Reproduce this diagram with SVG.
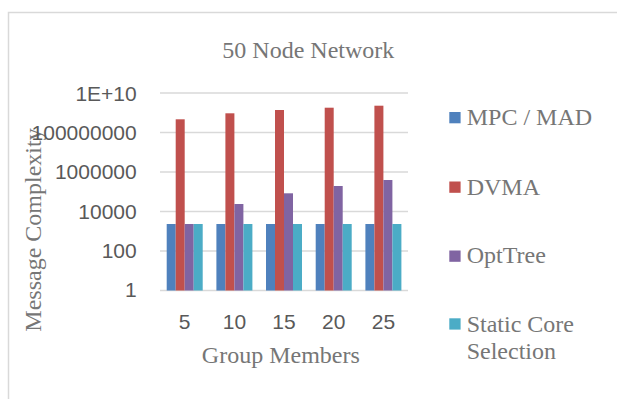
<svg xmlns="http://www.w3.org/2000/svg" width="617" height="399" viewBox="0 0 617 399">
  <style>
    .frame { fill: #ffffff; stroke: #d9d9d9; stroke-width: 1.5; }
    .grid { stroke: #d9d9d9; stroke-width: 1.5; fill: none; }
    .serif { font-family: "Liberation Serif", "Times New Roman", serif; font-size: 24px; fill: #767676; }
    .num { font-family: "Liberation Sans", Arial, sans-serif; font-size: 21px; fill: #595959; }
    .mpc { fill: #4f81bd; }
    .dvma { fill: #c0504d; }
    .opt { fill: #8064a2; }
    .scs { fill: #4bacc6; }
  </style>

  <rect width="617" height="399" fill="#ffffff"/>
  <!-- chart frame (left and top edges visible) -->
  <rect class="frame" x="8.5" y="12.5" width="620" height="400"/>

  <!-- title -->
  <text class="serif" x="308.3" y="57.7" text-anchor="middle">50 Node Network</text>

  <!-- gridlines (log scale, one per two decades) -->
  <g id="gridlines">
    <line class="grid" x1="160" y1="93" x2="408" y2="93"/>
    <line class="grid" x1="160" y1="132.5" x2="408" y2="132.5"/>
    <line class="grid" x1="160" y1="172" x2="408" y2="172"/>
    <line class="grid" x1="160" y1="211.5" x2="408" y2="211.5"/>
    <line class="grid" x1="160" y1="251" x2="408" y2="251"/>
    <line class="grid" x1="160" y1="290.5" x2="408" y2="290.5"/>
  </g>

  <!-- y axis title -->
  <text class="serif" transform="translate(40.7,230) rotate(-90)" x="0" y="0" text-anchor="middle">Message Complexity</text>

  <!-- y axis tick labels -->
  <g id="y-axis" text-anchor="end">
    <text class="num" x="136.7" y="100.7">1E+10</text>
    <text class="num" x="136.7" y="140">100000000</text>
    <text class="num" x="136.7" y="179.3">1000000</text>
    <text class="num" x="136.7" y="219">10000</text>
    <text class="num" x="136.7" y="258.3">100</text>
    <text class="num" x="136.7" y="297.3">1</text>
  </g>

  <!-- bars: MPC/MAD, DVMA, OptTree, Static Core Selection -->
  <g id="group-5">
    <rect class="mpc" x="166.7" y="224" width="9" height="66.5"/>
    <rect class="dvma" x="175.7" y="119.3" width="9" height="171.2"/>
    <rect class="opt" x="184.7" y="224" width="9" height="66.5"/>
    <rect class="scs" x="193.7" y="224" width="9" height="66.5"/>
  </g>
  <g id="group-10">
    <rect class="mpc" x="216.4" y="224" width="9" height="66.5"/>
    <rect class="dvma" x="225.4" y="113.3" width="9" height="177.2"/>
    <rect class="opt" x="234.4" y="204" width="9" height="86.5"/>
    <rect class="scs" x="243.4" y="224" width="9" height="66.5"/>
  </g>
  <g id="group-15">
    <rect class="mpc" x="266" y="224" width="9" height="66.5"/>
    <rect class="dvma" x="275" y="110" width="9" height="180.5"/>
    <rect class="opt" x="284" y="193.3" width="9" height="97.2"/>
    <rect class="scs" x="293" y="224" width="9" height="66.5"/>
  </g>
  <g id="group-20">
    <rect class="mpc" x="315.7" y="224" width="9" height="66.5"/>
    <rect class="dvma" x="324.7" y="107.7" width="9" height="182.8"/>
    <rect class="opt" x="333.7" y="186" width="9" height="104.5"/>
    <rect class="scs" x="342.7" y="224" width="9" height="66.5"/>
  </g>
  <g id="group-25">
    <rect class="mpc" x="365.4" y="224" width="9" height="66.5"/>
    <rect class="dvma" x="374.4" y="105.7" width="9" height="184.8"/>
    <rect class="opt" x="383.4" y="180" width="9" height="110.5"/>
    <rect class="scs" x="392.4" y="224" width="9" height="66.5"/>
  </g>

  <!-- x axis -->
  <g id="x-axis" text-anchor="middle">
    <text class="num" x="184.7" y="329">5</text>
    <text class="num" x="234.4" y="329">10</text>
    <text class="num" x="284" y="329">15</text>
    <text class="num" x="333.7" y="329">20</text>
    <text class="num" x="383.4" y="329">25</text>
  </g>
  <text class="serif" x="280.8" y="362.7" text-anchor="middle">Group Members</text>

  <!-- legend -->
  <g id="legend" font-family="'Liberation Serif', 'Times New Roman', serif" font-size="24" fill="#767676">
    <rect class="mpc" x="449.3" y="112" width="11.3" height="11.3"/>
    <text x="466.7" y="125" font-family="'Liberation Serif', 'Times New Roman', serif">MPC / MAD</text>
    <rect class="dvma" x="449.3" y="181.5" width="11.3" height="11.3"/>
    <text x="466.7" y="195" font-family="'Liberation Serif', 'Times New Roman', serif">DVMA</text>
    <rect class="opt" x="449.3" y="250.5" width="11.3" height="11.3"/>
    <text x="466.7" y="263.3" font-family="'Liberation Serif', 'Times New Roman', serif">OptTree</text>
    <rect class="scs" x="449.3" y="318.3" width="11.3" height="11.3"/>
    <text x="466.7" y="331.7" font-family="'Liberation Serif', 'Times New Roman', serif">Static Core</text>
    <text x="466.7" y="359.3" font-family="'Liberation Serif', 'Times New Roman', serif">Selection</text>
  </g>
</svg>
